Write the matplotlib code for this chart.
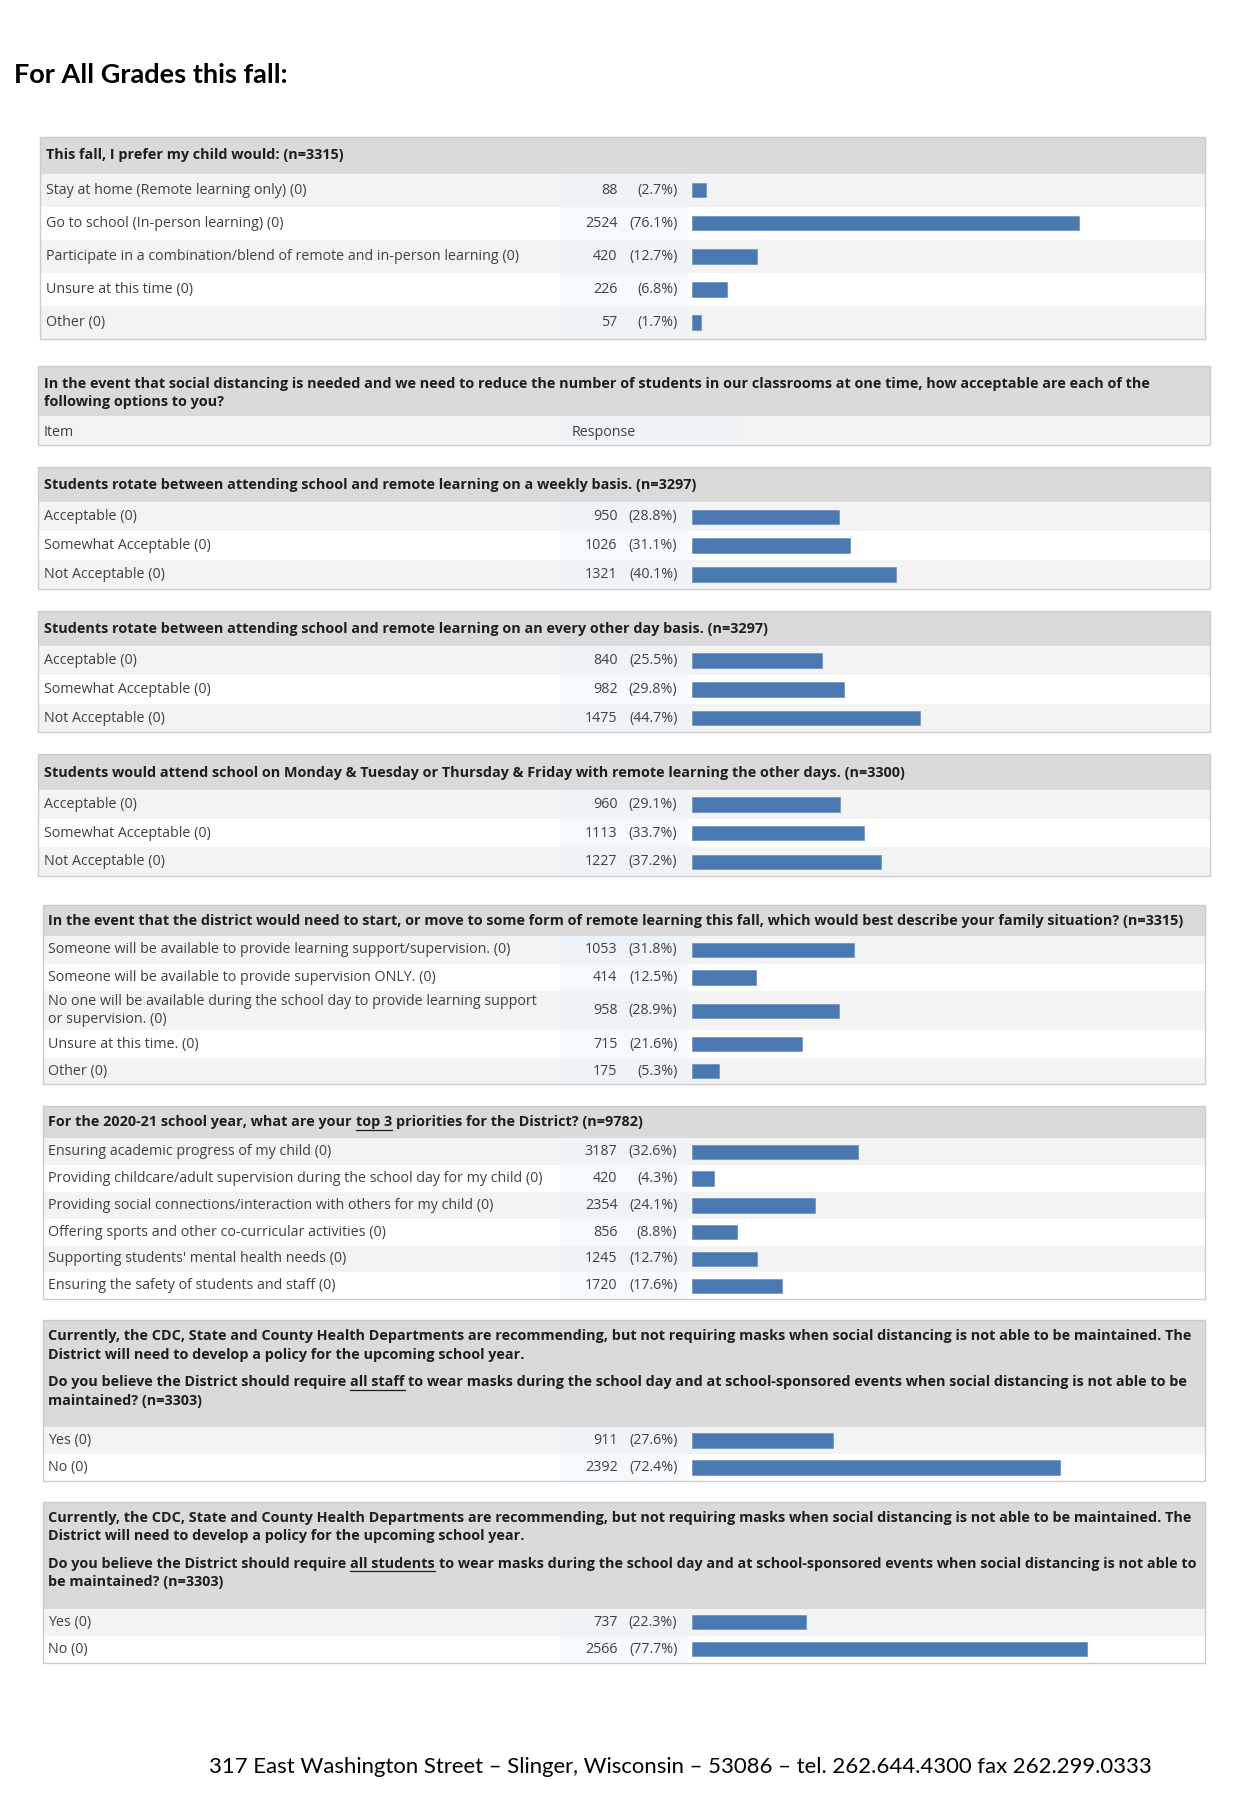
import matplotlib
matplotlib.use("Agg")
import matplotlib.pyplot as plt
from matplotlib.patches import Rectangle

# page layout units (the page is 1080 x 1575 units, saved at 1242 x 1811 px)
W, H = 1080, 1575

BAR = "#4a78b0"
HEAD_BG = "#dadada"
ROW_GRAY = "#f3f3f3"
VAL_GRAY = "#edf3f7"
VAL_WHITE = "#f5f9fc"
EDGE = "#cccccc"
TXT = "#404040"
HTXT = "#1e1e1e"

FONT = "Open Sans"
rowsize = 10.3
headsize = 10.35
pct_scale = 4.42  # layout units per percent

# ---- data ----
q1_title = ["This fall, I prefer my child would: (n=3315)"]
q1_labels = ["Stay at home (Remote learning only) (0)",
             "Go to school (In-person learning) (0)",
             "Participate in a combination/blend of remote and in-person learning (0)",
             "Unsure at this time (0)",
             "Other (0)"]
q1_counts = [88, 2524, 420, 226, 57]
q1_pcts = [2.7, 76.1, 12.7, 6.8, 1.7]

q2_title = ["In the event that social distancing is needed and we need to reduce the number of students in our classrooms at one time, how acceptable are each of the",
            "following options to you?"]

accept_labels = ["Acceptable (0)", "Somewhat Acceptable (0)", "Not Acceptable (0)"]

q3_title = ["Students rotate between attending school and remote learning on a weekly basis. (n=3297)"]
q3_counts = [950, 1026, 1321]
q3_pcts = [28.8, 31.1, 40.1]

q4_title = ["Students rotate between attending school and remote learning on an every other day basis. (n=3297)"]
q4_counts = [840, 982, 1475]
q4_pcts = [25.5, 29.8, 44.7]

q5_title = ["Students would attend school on Monday & Tuesday or Thursday & Friday with remote learning the other days. (n=3300)"]
q5_counts = [960, 1113, 1227]
q5_pcts = [29.1, 33.7, 37.2]

q6_title = ["In the event that the district would need to start, or move to some form of remote learning this fall, which would best describe your family situation? (n=3315)"]
q6_labels = ["Someone will be available to provide learning support/supervision. (0)",
             "Someone will be available to provide supervision ONLY. (0)",
             "No one will be available during the school day to provide learning support\nor supervision. (0)",
             "Unsure at this time. (0)",
             "Other (0)"]
q6_counts = [1053, 414, 958, 715, 175]
q6_pcts = [31.8, 12.5, 28.9, 21.6, 5.3]

q7_title = [[("For the 2020-21 school year, what are your", False), ("top 3", True),
             ("priorities for the District? (n=9782)", False)]]
q7_labels = ["Ensuring academic progress of my child (0)",
             "Providing childcare/adult supervision during the school day for my child (0)",
             "Providing social connections/interaction with others for my child (0)",
             "Offering sports and other co-curricular activities (0)",
             "Supporting students' mental health needs (0)",
             "Ensuring the safety of students and staff (0)"]
q7_counts = [3187, 420, 2354, 856, 1245, 1720]
q7_pcts = [32.6, 4.3, 24.1, 8.8, 12.7, 17.6]

mask_intro = ["Currently, the CDC, State and County Health Departments are recommending, but not requiring masks when social distancing is not able to be maintained. The",
              "District will need to develop a policy for the upcoming school year."]
q8_title = mask_intro + [
    [("Do you believe the District should require", False), ("all staff", True),
     ("to wear masks during the school day and at school-sponsored events when social distancing is not able to be", False)],
    "maintained? (n=3303)"]
q9_title = mask_intro + [
    [("Do you believe the District should require", False), ("all students", True),
     ("to wear masks during the school day and at school-sponsored events when social distancing is not able to", False)],
    "be maintained? (n=3303)"]
yesno_labels = ["Yes (0)", "No (0)"]
q8_counts = [911, 2392]
q8_pcts = [27.6, 72.4]
q9_counts = [737, 2566]
q9_pcts = [22.3, 77.7]

footer = "317 East Washington Street \u2013 Slinger, Wisconsin \u2013 53086 \u2013 tel. 262.644.4300 fax 262.299.0333"

fig = plt.figure(figsize=(12.42, 18.11), dpi=100)
ax = fig.add_axes([0, 0, 1, 1])
ax.set_xlim(0, W)
ax.set_ylim(H, 0)
ax.axis("off")
renderer = fig.canvas.get_renderer()


def text_width(s, **kw):
    t = ax.text(0, 0, s, **kw)
    bb = t.get_window_extent(renderer)
    t.remove()
    (a, _), (b, _) = ax.transData.inverted().transform(bb)
    return b - a


def header_line(x, y, line, size):
    kw = dict(fontsize=size, fontweight="bold", family=FONT, color=HTXT)
    if isinstance(line, str):
        ax.text(x, y, line, va="center", ha="left", **kw)
        return
    gap = text_width("a a", **kw) - text_width("aa", **kw)
    for s, ul in line:
        t = ax.text(x, y, s, va="center", ha="left", **kw)
        bb = t.get_window_extent(renderer)
        (a, _), (b, _) = ax.transData.inverted().transform(bb)
        if ul:
            ax.plot([a, b], [y + 6.5, y + 6.5], color=HTXT, lw=0.9)
        x = b + gap


def block(x0, x1, top, head_h, head_lines, head_ys, labels, counts, pcts,
          row_hs, size=rowsize, hsize=headsize):
    tx = x0 + 5
    bottom = top + head_h + sum(row_hs)
    ax.add_patch(Rectangle((x0, top), x1 - x0, head_h, facecolor=HEAD_BG, edgecolor="none"))
    for line, yy in zip(head_lines, head_ys):
        header_line(tx, top + yy, line, hsize)
    y = top + head_h
    centers = []
    for i, h in enumerate(row_hs):
        gray = i % 2 == 0
        ax.add_patch(Rectangle((x0, y), x1 - x0, h, facecolor=ROW_GRAY if gray else "white",
                               edgecolor="none"))
        ax.add_patch(Rectangle((487, y), 111, h, facecolor=VAL_GRAY if gray else VAL_WHITE,
                               edgecolor="none"))
        centers.append(y + h / 2)
        y += h
    for c, lab, n, p in zip(centers, labels, counts, pcts):
        ax.text(tx, c, lab, va="center", ha="left", fontsize=size, family=FONT,
                color=TXT, linespacing=1.3)
        ax.text(537, c, str(n), va="center", ha="right", fontsize=size, family=FONT, color=TXT)
        ax.text(589, c, "(%.1f%%)" % p, va="center", ha="right", fontsize=size, family=FONT, color=TXT)
    ax.barh(centers, [p * pct_scale for p in pcts], left=602, height=12.5,
            color=BAR, edgecolor="#6d90c0", linewidth=0.5, zorder=3)
    ax.add_patch(Rectangle((x0, top), x1 - x0, bottom - top, facecolor="none",
                           edgecolor=EDGE, linewidth=1.0, zorder=4))


ax.text(12, 65, "For All Grades this fall:", fontsize=19.5, fontweight="bold",
        family="Lato", color="black", va="center", ha="left")

block(35, 1048, 119, 32, q1_title, [16], q1_labels, q1_counts, q1_pcts, [28.8] * 5)

# header-only block with Item / Response row
ax.add_patch(Rectangle((33, 318), 1019, 44, facecolor=HEAD_BG, edgecolor="none"))
for line, yy in zip(q2_title, [16, 32]):
    header_line(38, 318 + yy, line, headsize)
ax.add_patch(Rectangle((33, 362), 1019, 25, facecolor=ROW_GRAY, edgecolor="none"))
ax.add_patch(Rectangle((487, 362), 156, 25, facecolor=VAL_GRAY, edgecolor="none"))
ax.text(38, 376, "Item", va="center", fontsize=rowsize, family=FONT, color=TXT)
ax.text(497, 376, "Response", va="center", fontsize=rowsize, family=FONT, color=TXT)
ax.add_patch(Rectangle((33, 318), 1019, 69, facecolor="none", edgecolor=EDGE, linewidth=1.0))

block(33, 1052, 406, 31, q3_title, [16], accept_labels, q3_counts, q3_pcts, [25] * 3)
block(33, 1052, 531, 31, q4_title, [16], accept_labels, q4_counts, q4_pcts, [25] * 3)
block(33, 1052, 656, 31, q5_title, [16], accept_labels, q5_counts, q5_pcts, [25] * 3)
block(37, 1048, 787, 27, q6_title, [14], q6_labels, q6_counts, q6_pcts, [24, 24, 34, 24, 23])
block(37, 1048, 962, 28, q7_title, [14], q7_labels, q7_counts, q7_pcts, [23.3] * 6)
block(37, 1048, 1148, 93, q8_title, [14, 30, 54, 70], yesno_labels, q8_counts, q8_pcts, [23.5] * 2)
block(37, 1048, 1306, 93, q9_title, [14, 30, 54, 70], yesno_labels, q9_counts, q9_pcts, [23.5] * 2)

ax.text(182, 1537, footer, fontsize=15.9, family="Lato", color="black", va="center", ha="left")

fig.savefig("out.png", dpi=100)
